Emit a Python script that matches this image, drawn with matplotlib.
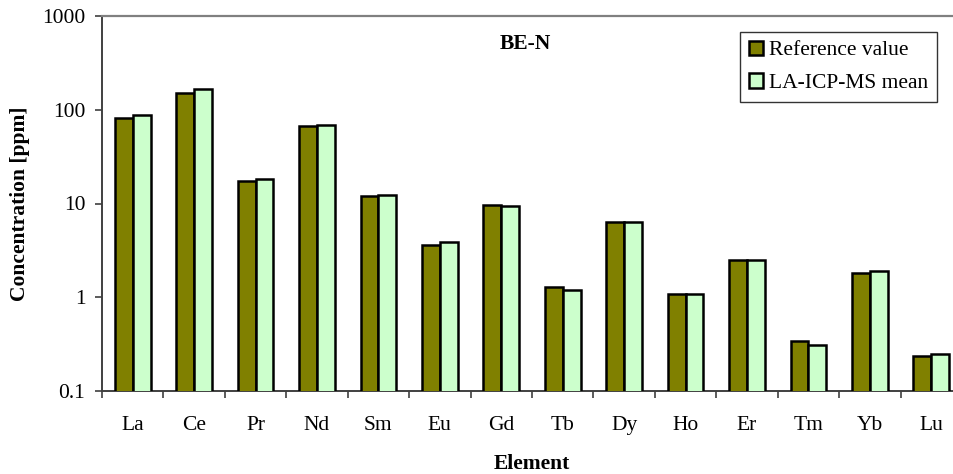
import matplotlib
matplotlib.use("Agg")
import matplotlib.pyplot as plt
from matplotlib.ticker import FixedLocator, NullFormatter, FixedFormatter, NullLocator
import numpy as np

elements = ["La", "Ce", "Pr", "Nd", "Sm", "Eu", "Gd", "Tb", "Dy", "Ho", "Er", "Tm", "Yb", "Lu"]
reference_value = [82, 150, 17.4, 66.6, 11.9, 3.58, 9.64, 1.29, 6.35, 1.09, 2.48, 0.339, 1.80, 0.236]
laicpms_mean = [87, 165, 18.1, 69.3, 12.2, 3.86, 9.34, 1.19, 6.35, 1.09, 2.48, 0.307, 1.89, 0.248]
y_ticks = [0.1, 1, 10, 100, 1000]
y_tick_labels = ["0.1", "1", "10", "100", "1000"]

plt.rcParams['font.family'] = ['Liberation Serif', 'DejaVu Serif']
FS = 15.5

W, H = 954, 474
fig = plt.figure(figsize=(W / 100, H / 100), dpi=100)
ax = fig.add_axes([102 / W, 1 - 391 / H, (962 - 102) / W, (391 - 16) / H])

x = np.arange(len(elements))
bw = 0.29
ax.bar(x - bw / 2, reference_value, width=bw,
       color="#808000", edgecolor="black", linewidth=1.8, label="Reference value", zorder=3)
ax.bar(x + bw / 2, laicpms_mean, width=bw,
       color="#CCFFCC", edgecolor="black", linewidth=1.8, label="LA-ICP-MS mean", zorder=3)

ax.set_yscale("log")
ax.set_ylim(0.1, 1000)
ax.set_xlim(-0.5, len(elements) - 0.5)

ax.yaxis.set_major_locator(FixedLocator(y_ticks))
ax.yaxis.set_major_formatter(FixedFormatter(y_tick_labels))
ax.yaxis.set_minor_locator(NullLocator())
ax.tick_params(axis="y", which="major", direction="out", length=5, width=1.2, pad=7,
               labelsize=FS, color="#404040")

ax.xaxis.set_major_locator(FixedLocator(np.arange(-0.5, len(elements), 1.0)))
ax.xaxis.set_major_formatter(NullFormatter())
ax.xaxis.set_minor_locator(FixedLocator(x))
ax.xaxis.set_minor_formatter(FixedFormatter(elements))
ax.tick_params(axis="x", which="major", direction="out", length=5, width=1.2, color="#404040")
ax.tick_params(axis="x", which="minor", length=0, pad=18, labelsize=FS)

for s in ["top", "right"]:
    ax.spines[s].set_color("#808080")
    ax.spines[s].set_linewidth(1.6)
ax.spines["left"].set_color("#404040")
ax.spines["left"].set_linewidth(1.4)
ax.spines["bottom"].set_color("#404040")
ax.spines["bottom"].set_linewidth(1.4)

ax.set_xlabel("Element", fontsize=FS, fontweight="bold", labelpad=14)
fig.text(20 / W, 1 - 204 / H, "Concentration [ppm]", rotation=90, ha="center", va="center",
         fontsize=FS, fontweight="bold")
fig.text(525 / W, 1 - 44 / H, "BE-N", ha="center", va="center", fontsize=FS, fontweight="bold")

leg = ax.legend(loc="upper right", bbox_to_anchor=(937 / W, 1 - 32 / H),
                bbox_transform=fig.transFigure, fontsize=FS, frameon=True, fancybox=False,
                borderaxespad=0, handlelength=0.65, handleheight=0.65, handletextpad=0.3,
                borderpad=0.4, labelspacing=0.6)
leg.get_frame().set_edgecolor("black")
leg.get_frame().set_linewidth(1.0)
for h in leg.legend_handles:
    h.set_linewidth(1.8)

fig.savefig("out.png", dpi=100)
